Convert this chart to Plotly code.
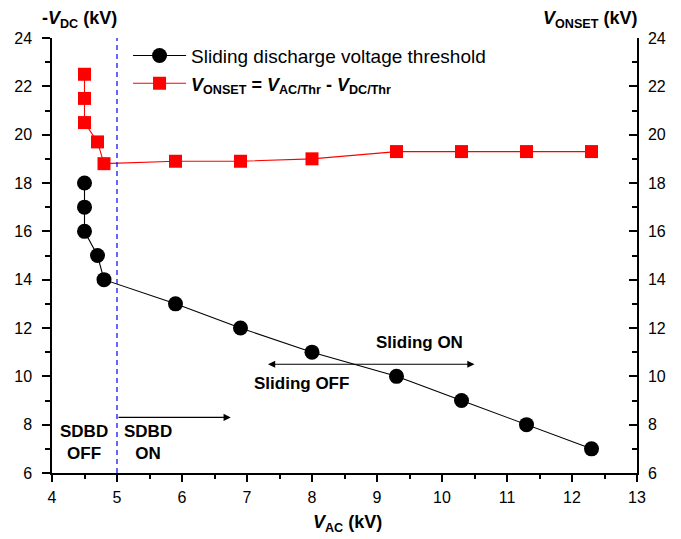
import plotly.graph_objects as go

# Data
v_ac = [4.5, 4.5, 4.5, 4.7, 4.8, 5.9, 6.9, 8.0, 9.3, 10.3, 11.3, 12.3]
v_dc_thr = [18, 17, 16, 15, 14, 13, 12, 11, 10, 9, 8, 7]
v_onset = [22.5, 21.5, 20.5, 19.7, 18.8, 18.9, 18.9, 19.0, 19.3, 19.3, 19.3, 19.3]

x_ticks = list(range(4, 14))
y_ticks = list(range(6, 25, 2))

FONT = "Liberation Sans, Arial, sans-serif"

fig = go.Figure()
fig.add_trace(go.Scatter(
    x=v_ac, y=v_dc_thr, mode="lines+markers", legendgroup="a",
    name="Sliding discharge voltage threshold",
    line=dict(color="black", width=1.1),
    marker=dict(symbol="circle", size=15, color="black"),
))
fig.add_trace(go.Scatter(
    x=v_ac, y=v_onset, mode="lines+markers", yaxis="y2", legendgroup="b",
    name="<span style='font-size:18px'><b><i>V</i><sub>ONSET</sub> = <i>V</i><sub>AC/Thr</sub> - <i>V</i><sub>DC/Thr</sub></b></span>",
    line=dict(color="#ff0000", width=1.1),
    marker=dict(symbol="square", size=13, color="#ff0000"),
))

def ax(**kw):
    d = dict(
        showline=True, linecolor="black", linewidth=1.5,
        ticks="outside", ticklen=8, tickwidth=1.5, tickcolor="black",
        showgrid=False, zeroline=False, automargin=False,
        tickfont=dict(family=FONT, size=16, color="black"),
    )
    d.update(kw)
    return d

fig.update_layout(
    width=673, height=531,
    margin=dict(l=44, r=44, t=30, b=66),
    paper_bgcolor="white", plot_bgcolor="white",
    font=dict(family=FONT, color="black"),
    xaxis=ax(range=[4, 13], tickvals=x_ticks, ticklen=7, ticklabelstandoff=2,
             minor=dict(dtick=0.5, ticks="outside", ticklen=4, tickwidth=1.5, tickcolor="black")),
    yaxis=ax(range=[6, 24], tickvals=y_ticks, ticklabelstandoff=7,
             minor=dict(dtick=1, ticks="outside", ticklen=5, tickwidth=1.5, tickcolor="black")),
    yaxis2=ax(range=[6, 24], tickvals=y_ticks, overlaying="y", side="right",
              ticks="inside", ticklabelstandoff=6,
              minor=dict(dtick=1, ticks="inside", ticklen=5, tickwidth=1.5, tickcolor="black")),
    showlegend=True,
    legend=dict(x=0.13, y=1.003, xanchor="left", yanchor="top",
                bgcolor="rgba(0,0,0,0)", itemwidth=53, tracegroupgap=0,
                font=dict(family=FONT, size=19, color="black")),
)

# Vertical dashed line at V_AC = 5 kV
fig.add_shape(type="line", x0=5, x1=5, y0=0, y1=1, xref="x", yref="paper",
              line=dict(color="#0000ff", width=1.2, dash="5px,4px"))

# Arrows
fig.add_annotation(x=6.75, y=8.3, ax=5.0, ay=8.3, xref="x", yref="y", axref="x", ayref="y",
                   text="", showarrow=True, arrowhead=2, arrowsize=1.2, arrowwidth=1.2, arrowcolor="black")
fig.add_annotation(x=10.5, y=10.5, ax=7.3, ay=10.5, xref="x", yref="y", axref="x", ayref="y",
                   text="", showarrow=True, arrowhead=2, startarrowhead=2, arrowside="end+start",
                   arrowsize=1.2, startarrowsize=1.2, arrowwidth=1.2, arrowcolor="black")

bold17 = dict(family=FONT, size=17, color="black")
fig.add_annotation(x=4.49, y=7.25, text="<b>SDBD<br>OFF</b>", showarrow=False, font=bold17)
fig.add_annotation(x=5.48, y=7.25, text="<b>SDBD<br>ON</b>", showarrow=False, font=bold17)
fig.add_annotation(x=9.66, y=11.41, text="<b>Sliding ON</b>", showarrow=False, font=bold17)
fig.add_annotation(x=7.84, y=9.7, text="<b>Sliding OFF</b>", showarrow=False, font=bold17)

# Axis titles
bold18 = dict(family=FONT, size=18, color="black")
fig.add_annotation(x=(79 - 52) / 585, y=1 + (38 - 20) / 435, xref="paper", yref="paper",
                   xanchor="center", yanchor="middle",
                   text="<b>-<i>V</i><sub>DC</sub> (kV)</b>", showarrow=False, font=bold18)
fig.add_annotation(x=(590 - 52) / 585, y=1 + (38 - 20) / 435, xref="paper", yref="paper",
                   xanchor="center", yanchor="middle",
                   text="<b><i>V</i><sub>ONSET</sub> (kV)</b>", showarrow=False, font=bold18)
fig.add_annotation(x=(347 - 52) / 585, y=-(523 - 473) / 435, xref="paper", yref="paper",
                   xanchor="center", yanchor="middle",
                   text="<b><i>V</i><sub>AC</sub> (kV)</b>", showarrow=False, font=bold18)

fig.write_html("out.html")
